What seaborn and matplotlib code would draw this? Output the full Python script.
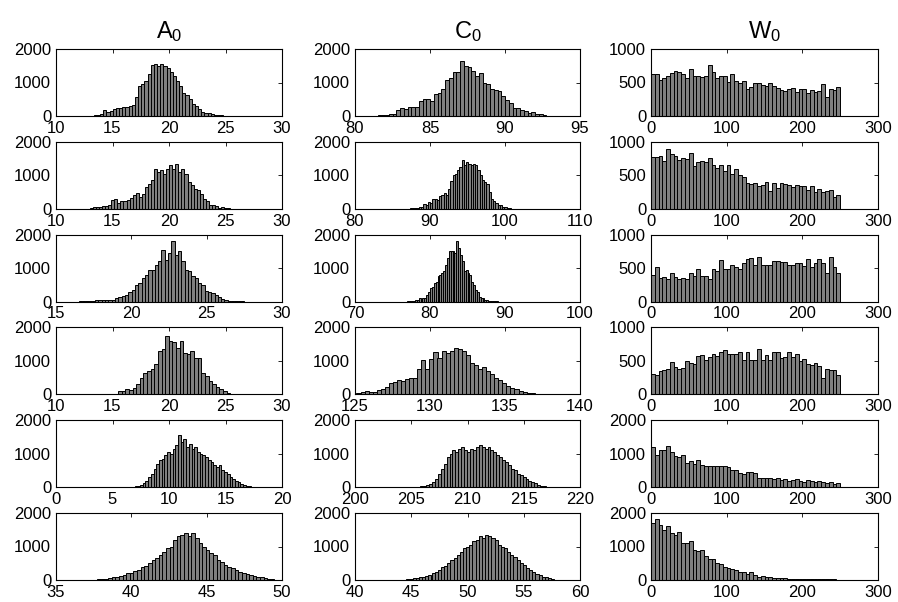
import numpy as np
import pandas as pd
import matplotlib
matplotlib.use("Agg")
import matplotlib.pyplot as plt
import seaborn as sns

sns.set_style("white")
plt.rcParams["font.family"] = ["Liberation Sans", "DejaVu Sans"]
plt.rcParams["mathtext.fontset"] = "custom"
plt.rcParams["mathtext.rm"] = "Liberation Sans"
plt.rcParams["mathtext.it"] = "Liberation Sans"
plt.rcParams["text.color"] = "black"
plt.rcParams["xtick.color"] = "black"
plt.rcParams["ytick.color"] = "black"

# ---------------- data ----------------
column_titles = [r"$\mathregular{A_0}$", r"$\mathregular{C_0}$", r"$\mathregular{W_0}$"]

# each histogram: first bin edge, bin width, counts
a0_r1_lo, a0_r1_w = 12.5, 0.28
a0_r1_counts = [0, 5, 10, 20, 40, 60, 170, 130, 160, 210, 230, 250, 270, 270, 290, 320, 560, 900, 950, 1050,
                1250, 1520, 1550, 1480, 1540, 1480, 1420, 1300, 1200, 1050, 900, 700, 620, 520, 370, 310, 220,
                130, 100, 90, 50, 40, 30, 20, 10, 5, 3, 0, 0, 0]
c0_r1_lo, c0_r1_w = 81.0, 0.25
c0_r1_counts = [0, 5, 30, 20, 40, 70, 50, 180, 250, 220, 260, 260, 270, 450, 500, 510, 450, 650, 700, 820,
                1080, 1120, 1300, 1300, 1650, 1500, 1450, 1350, 1200, 1280, 1000, 950, 820, 780, 750, 600,
                480, 400, 250, 250, 190, 150, 100, 130, 70, 60, 30, 10, 5, 0]
w0_r1_lo, w0_r1_w = 0.0, 5.0
w0_r1_counts = [620, 620, 540, 560, 590, 640, 670, 660, 620, 560, 700, 600, 600, 580, 590, 760, 650, 570, 590, 590,
                510, 620, 520, 490, 520, 400, 440, 490, 490, 460, 450, 490, 450, 420, 390, 370, 400, 420, 360, 400,
                410, 340, 390, 360, 380, 480, 290, 410, 390, 440]

a0_r2_lo, a0_r2_w = 13.0, 0.27
a0_r2_counts = [20, 50, 50, 40, 80, 80, 100, 250, 300, 180, 220, 220, 250, 320, 400, 460, 350, 450, 650, 750,
                850, 1200, 1100, 1150, 1050, 1200, 1300, 1200, 1350, 1100, 1200, 1050, 800, 700, 580, 550, 450,
                300, 220, 100, 100, 70, 30, 50, 30, 15, 5, 0, 0, 0]
c0_r2_lo, c0_r2_w = 87.0, 0.3
c0_r2_counts = [5, 10, 15, 20, 30, 60, 50, 150, 120, 200, 180, 300, 280, 250, 380, 400, 460, 420, 600, 820,
                1000, 1050, 1150, 1250, 1450, 1300, 1400, 1350, 1300, 1350, 1300, 1150, 1000, 850, 800, 750,
                500, 300, 220, 180, 120, 100, 60, 40, 20, 10, 5, 3, 0, 0]
w0_r2_lo, w0_r2_w = 0.0, 5.0
w0_r2_counts = [770, 780, 790, 720, 890, 820, 790, 730, 760, 740, 840, 640, 700, 710, 700, 760, 660, 610, 650, 560,
                650, 520, 590, 510, 480, 380, 370, 380, 340, 350, 400, 270, 390, 310, 380, 370, 350, 320, 350, 340,
                340, 280, 340, 250, 300, 250, 270, 280, 180, 210]

a0_r3_lo, a0_r3_w = 16.5, 0.22
a0_r3_counts = [5, 5, 10, 30, 20, 40, 60, 50, 60, 40, 60, 100, 130, 180, 200, 300, 350, 500, 550, 700,
                800, 950, 930, 1100, 1200, 1550, 1250, 1450, 1800, 1400, 1500, 1200, 950, 900, 750, 700, 550,
                500, 330, 300, 250, 200, 130, 80, 50, 30, 20, 10, 5, 3]
c0_r3_lo, c0_r3_w = 77.0, 0.25
c0_r3_counts = [3, 5, 10, 20, 40, 60, 100, 90, 120, 100, 200, 280, 400, 450, 550, 600, 750, 800, 850, 900,
                1100, 1300, 1500, 1500, 1520, 1450, 1800, 1600, 1400, 1200, 900, 950, 850, 800, 600, 500,
                350, 300, 150, 100, 100, 60, 40, 30, 20, 10, 5, 3, 0, 0]
w0_r3_lo, w0_r3_w = 0.0, 5.0
w0_r3_counts = [400, 520, 350, 360, 330, 420, 360, 330, 350, 330, 420, 380, 480, 380, 380, 340, 490, 460, 620, 480,
                480, 540, 520, 490, 570, 640, 650, 540, 670, 540, 540, 540, 610, 610, 590, 590, 540, 540, 570, 580,
                530, 640, 510, 570, 630, 580, 430, 660, 510, 430]

a0_r4_lo, a0_r4_w = 15.5, 0.32
a0_r4_counts = [100, 100, 170, 130, 200, 300, 480, 650, 700, 750, 900, 1300, 1350, 1750, 1600, 1550, 1400, 1600,
                1250, 1200, 1300, 1100, 1100, 650, 550, 400, 300, 220, 150, 100, 30, 10]
c0_r4_lo, c0_r4_w = 125.1, 0.27
c0_r4_counts = [30, 60, 90, 60, 80, 130, 170, 230, 350, 380, 430, 400, 470, 480, 500, 750, 1030, 750, 1050, 1260,
                1100, 1300, 1250, 1300, 1380, 1350, 1300, 1180, 950, 880, 770, 830, 700, 600, 500, 420, 340,
                250, 200, 160, 110, 70, 50, 30, 15, 10, 5]
w0_r4_lo, w0_r4_w = 0.0, 5.0
w0_r4_counts = [300, 290, 350, 370, 380, 490, 410, 380, 400, 500, 470, 460, 580, 590, 510, 560, 610, 580, 630, 660,
                600, 600, 610, 630, 510, 640, 520, 520, 680, 510, 590, 510, 640, 630, 540, 560, 640, 560, 610, 500,
                530, 450, 440, 470, 420, 250, 380, 370, 360, 290]

a0_r5_lo, a0_r5_w = 6.0, 0.24
a0_r5_counts = [5, 10, 10, 20, 30, 50, 80, 120, 200, 300, 400, 550, 700, 800, 850, 950, 1050, 1000, 1150, 1250,
                1550, 1350, 1450, 1200, 1300, 1150, 1200, 1050, 1000, 950, 900, 800, 750, 650, 600, 650, 500,
                450, 380, 300, 250, 200, 150, 100, 80, 50, 30, 20, 10, 5]
c0_r5_lo, c0_r5_w = 204.5, 0.26
c0_r5_counts = [3, 5, 10, 15, 20, 30, 40, 60, 100, 150, 250, 400, 550, 700, 900, 1000, 1100, 1050, 1150, 1200,
                1100, 1050, 1150, 1100, 1200, 1250, 1200, 1150, 1200, 1100, 1050, 950, 900, 800, 750, 650, 550,
                500, 400, 350, 300, 250, 200, 150, 120, 80, 50, 30, 15, 5]
w0_r5_lo, w0_r5_w = 0.0, 5.0
w0_r5_counts = [1190, 950, 1120, 1100, 1230, 1050, 930, 890, 960, 720, 780, 680, 820, 660, 620, 620, 620, 620, 630,
                620, 600, 520, 510, 420, 400, 440, 450, 420, 270, 280, 280, 280, 240, 260, 220, 240, 200, 220,
                250, 190, 160, 210, 190, 150, 190, 150, 140, 150, 100, 120]

a0_r6_lo, a0_r6_w = 37.5, 0.24
a0_r6_counts = [10, 20, 30, 40, 50, 80, 100, 120, 150, 200, 220, 280, 300, 380, 420, 500, 600, 650, 750, 850,
                950, 1000, 1200, 1300, 1350, 1400, 1300, 1400, 1250, 1100, 1000, 900, 800, 750, 600, 550, 450,
                400, 350, 300, 250, 200, 180, 150, 120, 100, 80, 50, 30, 20]
c0_r6_lo, c0_r6_w = 44.0, 0.28
c0_r6_counts = [5, 10, 20, 30, 50, 60, 80, 100, 130, 160, 200, 250, 300, 380, 420, 500, 600, 650, 750, 850,
                950, 1000, 1050, 1150, 1200, 1300, 1250, 1350, 1300, 1250, 1200, 1050, 1000, 950, 850, 750, 700,
                600, 500, 450, 350, 300, 250, 180, 150, 100, 80, 50, 30, 10]
w0_r6_lo, w0_r6_w = 0.0, 5.0
w0_r6_counts = [1700, 1820, 1650, 1480, 1600, 1400, 1350, 1430, 1100, 1100, 1150, 900, 880, 900, 720, 620, 620,
                520, 480, 380, 370, 330, 310, 250, 250, 190, 230, 160, 100, 120, 100, 80, 60, 50, 50, 50, 40,
                40, 40, 30, 30, 20, 30, 20, 40, 20, 20, 40, 20, 10]

# axis ticks per panel
a0_xticks = [[10, 15, 20, 25, 30], [10, 15, 20, 25, 30], [15, 20, 25, 30],
             [10, 15, 20, 25, 30], [0, 5, 10, 15, 20], [35, 40, 45, 50]]
c0_xticks = [[80, 85, 90, 95], [80, 90, 100, 110], [70, 80, 90, 100],
             [125, 130, 135, 140], [200, 205, 210, 215, 220], [40, 45, 50, 55, 60]]
w0_xticks = [[0, 100, 200, 300]] * 6
a0_yticks = [[0, 1000, 2000]] * 6
c0_yticks = [[0, 1000, 2000]] * 6
w0_yticks = [[0, 500, 1000]] * 4 + [[0, 1000, 2000]] * 2

panels = [
    [(a0_r1_lo, a0_r1_w, a0_r1_counts), (c0_r1_lo, c0_r1_w, c0_r1_counts), (w0_r1_lo, w0_r1_w, w0_r1_counts)],
    [(a0_r2_lo, a0_r2_w, a0_r2_counts), (c0_r2_lo, c0_r2_w, c0_r2_counts), (w0_r2_lo, w0_r2_w, w0_r2_counts)],
    [(a0_r3_lo, a0_r3_w, a0_r3_counts), (c0_r3_lo, c0_r3_w, c0_r3_counts), (w0_r3_lo, w0_r3_w, w0_r3_counts)],
    [(a0_r4_lo, a0_r4_w, a0_r4_counts), (c0_r4_lo, c0_r4_w, c0_r4_counts), (w0_r4_lo, w0_r4_w, w0_r4_counts)],
    [(a0_r5_lo, a0_r5_w, a0_r5_counts), (c0_r5_lo, c0_r5_w, c0_r5_counts), (w0_r5_lo, w0_r5_w, w0_r5_counts)],
    [(a0_r6_lo, a0_r6_w, a0_r6_counts), (c0_r6_lo, c0_r6_w, c0_r6_counts), (w0_r6_lo, w0_r6_w, w0_r6_counts)],
]
xticks_cols = [a0_xticks, c0_xticks, w0_xticks]
yticks_cols = [a0_yticks, c0_yticks, w0_yticks]

# ---------------- layout ----------------
W, H = 898, 602
fig = plt.figure(figsize=(W / 100, H / 100), dpi=100)
col_px = [(56, 282), (355, 580), (651, 878)]
row_top0, row_step, row_h = 49, 92.8, 67

for r in range(6):
    top = row_top0 + r * row_step
    for c in range(3):
        x0, x1 = col_px[c]
        ax = fig.add_axes([x0 / W, 1 - (top + row_h) / H, (x1 - x0) / W, row_h / H])
        lo, w, counts = panels[r][c]
        n = len(counts)
        centers = lo + w * (np.arange(n) + 0.5)
        df = pd.DataFrame({"x": centers, "count": counts})
        sns.histplot(data=df, x="x", weights="count", binwidth=w,
                     binrange=(lo, lo + n * w), ax=ax,
                     color="#7f7f7f", edgecolor="black", linewidth=0.7, alpha=1.0)
        xt = xticks_cols[c][r]
        yt = yticks_cols[c][r]
        ax.set_xlim(xt[0], xt[-1])
        ax.set_ylim(yt[0], yt[-1])
        ax.set_xticks(xt)
        ax.set_yticks(yt)
        ax.set_xlabel("")
        ax.set_ylabel("")
        ax.tick_params(axis="both", direction="in", length=3, width=0.6, top=True, right=True,
                       labelsize=12, colors="black")
        ax.tick_params(axis="x", pad=3.5)
        ax.tick_params(axis="y", pad=3.5)
        for s in ax.spines.values():
            s.set_visible(True)
            s.set_color("black")
            s.set_linewidth(0.8)
        if r == 0:
            ax.set_title(column_titles[c], fontsize=17, pad=8)

fig.savefig("out.png", dpi=100)
